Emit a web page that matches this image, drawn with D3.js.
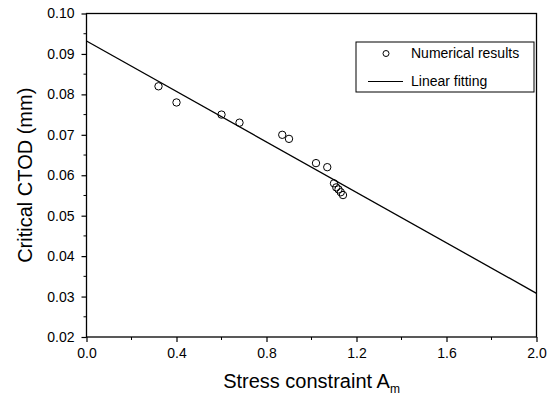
<!DOCTYPE html>
<html>
<head>
<meta charset="utf-8">
<script src="https://cdn.jsdelivr.net/npm/d3@7"></script>
<style>
  body { margin: 0; background: #fff; }
  text { font-family: Arial, "Liberation Sans", sans-serif; fill: #000; }
</style>
</head>
<body>
<div id="chart"></div>
<script>
// numerical results: stress constraint A_m vs critical CTOD (mm)
const amValues = [0.32, 0.40, 0.60, 0.68, 0.87, 0.90, 1.02, 1.07, 1.10, 1.11, 1.12, 1.13, 1.14]
const ctodValues = [0.082, 0.078, 0.075, 0.073, 0.070, 0.069, 0.063, 0.062, 0.058, 0.057, 0.0565, 0.0558, 0.0551]
// linear fit endpoints
const fitX = [0, 2]
const fitY = [0.0932, 0.0308]
const xTicks = [0, 0.4, 0.8, 1.2, 1.6, 2.0]
const yTicks = [0.02, 0.03, 0.04, 0.05, 0.06, 0.07, 0.08, 0.09, 0.10]

const width = 552
const height = 398
const margin = { top: 13.5, right: 15.5, bottom: 61, left: 86.5 }

const svg = d3.select('#chart')
  .append('svg')
  .attr('width', width)
  .attr('height', height)

const xScale = d3.scaleLinear().domain([0, 2]).range([margin.left, width - margin.right])
const yScale = d3.scaleLinear().domain([0.02, 0.10]).range([height - margin.bottom, margin.top])

// frame
svg.append('rect')
  .attr('x', xScale(0))
  .attr('y', yScale(0.10))
  .attr('width', xScale(2) - xScale(0))
  .attr('height', yScale(0.02) - yScale(0.10))
  .attr('fill', 'none')
  .attr('stroke', '#000')
  .attr('stroke-width', 1.3)

// minor ticks
const xMinor = d3.range(0.2, 2, 0.4)
const yMinor = d3.range(0.025, 0.1, 0.01)
svg.append('g')
  .selectAll('line')
  .data(xMinor)
  .enter()
  .append('line')
  .attr('x1', d => xScale(d)).attr('x2', d => xScale(d))
  .attr('y1', yScale(0.02)).attr('y2', yScale(0.02) + 3)
  .attr('stroke', '#000')
svg.append('g')
  .selectAll('line')
  .data(yMinor)
  .enter()
  .append('line')
  .attr('x1', xScale(0) - 3).attr('x2', xScale(0))
  .attr('y1', d => yScale(d)).attr('y2', d => yScale(d))
  .attr('stroke', '#000')

// axes
const xAxis = d3.axisBottom(xScale).tickValues(xTicks).tickSize(5).tickPadding(6).tickFormat(d3.format('.1f'))
const yAxis = d3.axisLeft(yScale).tickValues(yTicks).tickSize(5).tickPadding(7).tickFormat(d3.format('.2f'))

const xAxisG = svg.append('g')
  .attr('transform', `translate(0,${yScale(0.02)})`)
  .call(xAxis)
const yAxisG = svg.append('g')
  .attr('transform', `translate(${xScale(0)},0)`)
  .call(yAxis)

;[xAxisG, yAxisG].forEach(g => {
  g.select('.domain').remove()
  g.selectAll('.tick line').attr('stroke', '#000').attr('stroke-width', 1.2)
  g.selectAll('.tick text')
    .attr('font-size', 14)
    .attr('font-family', 'Arial, "Liberation Sans", sans-serif')
    .attr('fill', '#000')
})

// axis titles
const xTitle = svg.append('text')
  .attr('x', xScale(1))
  .attr('y', 388)
  .attr('text-anchor', 'middle')
  .attr('style', 'font-size:20px;')
xTitle.append('tspan').text('Stress constraint A')
xTitle.append('tspan').text('m').attr('dy', 5).attr('style', 'font-size:12px;')

svg.append('text')
  .text('Critical CTOD (mm)')
  .attr('transform', `translate(31.5,${yScale(0.06)}) rotate(-90)`)
  .attr('text-anchor', 'middle')
  .attr('style', 'font-size:20px;')

// fit line
svg.append('line')
  .attr('x1', xScale(fitX[0])).attr('y1', yScale(fitY[0]))
  .attr('x2', xScale(fitX[1])).attr('y2', yScale(fitY[1]))
  .attr('stroke', '#000')
  .attr('stroke-width', 1.3)

// points
svg.append('g')
  .selectAll('circle')
  .data(amValues)
  .enter()
  .append('circle')
  .attr('cx', d => xScale(d))
  .attr('cy', (d, i) => yScale(ctodValues[i]))
  .attr('r', 3.7)
  .attr('fill', 'none')
  .attr('stroke', '#000')
  .attr('stroke-width', 1)

// legend
const legend = svg.append('g').attr('transform', 'translate(356,42)')
legend.append('rect')
  .attr('width', 178)
  .attr('height', 50)
  .attr('fill', '#fff')
  .attr('stroke', '#000')
  .attr('stroke-width', 1)
legend.append('circle')
  .attr('cx', 30).attr('cy', 11.5).attr('r', 3)
  .attr('fill', 'none').attr('stroke', '#000')
legend.append('text')
  .text('Numerical results')
  .attr('x', 55).attr('y', 16)
  .attr('style', 'font-size:14px;')
legend.append('line')
  .attr('x1', 12).attr('x2', 47)
  .attr('y1', 39.5).attr('y2', 39.5)
  .attr('stroke', '#000')
legend.append('text')
  .text('Linear fitting')
  .attr('x', 55).attr('y', 43.5)
  .attr('style', 'font-size:14px;')
</script>
</body>
</html>
